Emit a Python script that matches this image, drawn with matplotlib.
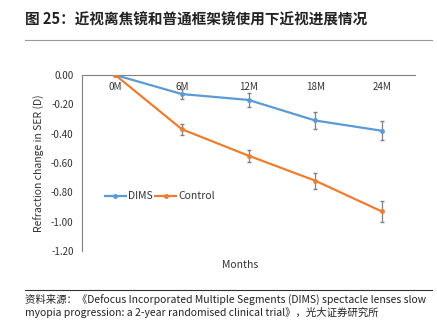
import matplotlib.pyplot as plt
from matplotlib.lines import Line2D
import numpy as np

plt.rcParams['font.family'] = ['Noto Sans CJK SC', 'DejaVu Sans']

months = ["0M", "6M", "12M", "18M", "24M"]
dims = [0.0, -0.13, -0.17, -0.31, -0.38]
dims_err = [0.0, 0.035, 0.05, 0.057, 0.064]
control = [0.0, -0.37, -0.55, -0.72, -0.93]
control_err = [0.0, 0.038, 0.042, 0.055, 0.072]
yticks = [0.0, -0.2, -0.4, -0.6, -0.8, -1.0, -1.2]

blue = "#5B9BD5"
orange = "#ED7D31"

fig = plt.figure(figsize=(4.37, 3.27), dpi=100)
W, H = 437, 327

# title + rule
fig.text(25 / W, 1 - 20 / H, "图 25：近视离焦镜和普通框架镜使用下近视进展情况",
         fontsize=10.5, fontweight="bold", va="center", ha="left", color="#222222")
fig.add_artist(Line2D([25 / W, 432 / W], [1 - 40 / H, 1 - 40 / H],
                      color="#999999", lw=0.8))

ax = fig.add_axes([82 / W, 1 - 251 / H, (415 - 82) / W, (251 - 75) / H])
x = np.arange(len(months))
ax.errorbar(x, dims, yerr=dims_err, color=blue, lw=1.6, marker="o", ms=2.5,
            ecolor="#808080", elinewidth=0.9, capsize=1.5, zorder=3)
ax.errorbar(x, control, yerr=control_err, color=orange, lw=1.6, marker="o", ms=2.5,
            ecolor="#808080", elinewidth=0.9, capsize=1.5, zorder=3)

ax.set_xlim(-0.5, len(months) - 0.5)
ax.set_ylim(-1.2, 0.0)
ax.set_yticks(yticks)
ax.set_yticklabels([f"{v:.2f}" for v in yticks], fontsize=7, color="#333333")
ax.tick_params(axis="y", length=0, pad=6)
ax.set_xticks(x)
ax.set_xticklabels(months, fontsize=7, color="#333333")
ax.spines["right"].set_visible(False)
ax.spines["bottom"].set_visible(False)
ax.spines["top"].set_color("#808080")
ax.spines["left"].set_color("#808080")
ax.xaxis.set_ticks_position("top")
ax.tick_params(axis="x", length=0, labeltop=True, labelbottom=False, pad=-12)

ax.set_ylabel("Refraction change in SER (D)", fontsize=7.5, color="#333333", labelpad=4)
fig.text(240 / W, 1 - 265 / H, "Months", fontsize=7.5, ha="center", va="center",
         color="#333333")

handles = [Line2D([], [], color=blue, lw=1.6, marker="o", ms=2.5),
           Line2D([], [], color=orange, lw=1.6, marker="o", ms=2.5)]
ax.legend(handles, ["DIMS", "Control"], loc="center left",
          bbox_to_anchor=(0.04, 0.31), ncol=2, frameon=False,
          fontsize=7.5, handlelength=2.0, columnspacing=0.3, handletextpad=0.2,
          labelcolor="#333333")

# footer
fig.add_artist(Line2D([25 / W, 432 / W], [1 - 290 / H, 1 - 290 / H],
                      color="#333333", lw=0.8))
fig.text(25 / W, 1 - 299 / H,
         "资料来源：《Defocus Incorporated Multiple Segments (DIMS) spectacle lenses slow",
         fontsize=7.5, ha="left", va="center", color="#222222")
fig.text(25 / W, 1 - 313 / H,
         "myopia progression: a 2-year randomised clinical trial》，光大证券研究所",
         fontsize=7.5, ha="left", va="center", color="#222222")

fig.savefig("out.png", dpi=100)
